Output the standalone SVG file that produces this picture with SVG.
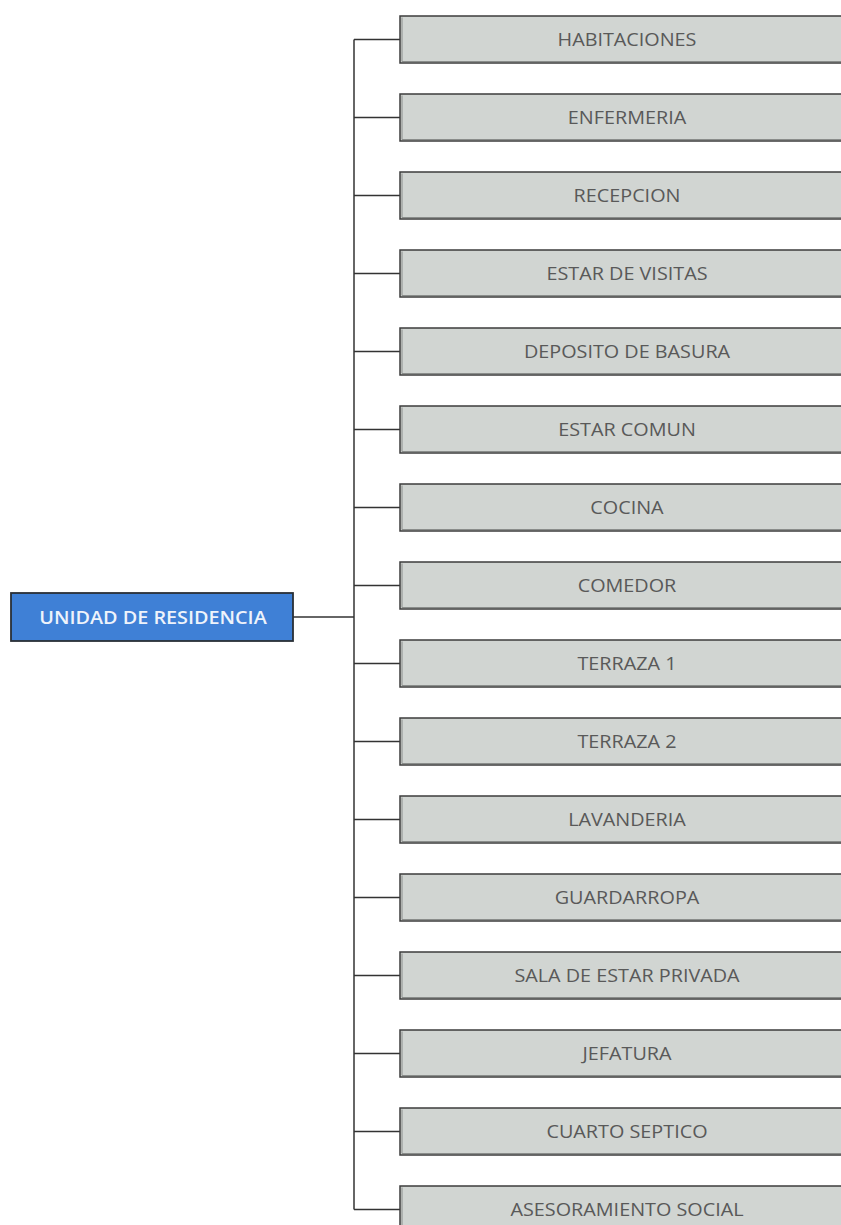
<svg xmlns="http://www.w3.org/2000/svg" width="841" height="1225" viewBox="0 0 841 1225">
  <defs>
    <style>
      .room rect.base { fill: #d1d5d2; stroke: #3c3c3c; stroke-width: 1.5; }
      .room path { fill: none; stroke: #8a8d8b; stroke-width: 1; }
      .room text { font-family: "Open Sans", "Noto Sans", sans-serif; font-size: 18px; fill: #595959; text-anchor: middle; }
      .root rect { fill: #3f80d6; stroke: #2a2f36; stroke-width: 1.8; }
      .root text { font-family: "Open Sans", "Noto Sans", sans-serif; font-size: 18px; font-weight: 600; fill: #eef3fb; text-anchor: middle; }
      .links path { fill: none; stroke: #333; stroke-width: 1.5; }
    </style>
  </defs>
  <rect width="841" height="1225" fill="#fff"/>

  <!-- connectors: trunk plus one branch per room -->
  <g class="links" id="connectors">
    <path d="M293 617 H354"/>
    <path d="M354 39.5 V1209.5"/>
    <path d="M354 39.5 H400"/>
    <path d="M354 117.5 H400"/>
    <path d="M354 195.5 H400"/>
    <path d="M354 273.5 H400"/>
    <path d="M354 351.5 H400"/>
    <path d="M354 429.5 H400"/>
    <path d="M354 507.5 H400"/>
    <path d="M354 585.5 H400"/>
    <path d="M354 663.5 H400"/>
    <path d="M354 741.5 H400"/>
    <path d="M354 819.5 H400"/>
    <path d="M354 897.5 H400"/>
    <path d="M354 975.5 H400"/>
    <path d="M354 1053.5 H400"/>
    <path d="M354 1131.5 H400"/>
    <path d="M354 1209.5 H400"/>
  </g>

  <!-- root -->
  <g class="root" id="unidad-de-residencia">
    <rect x="11" y="593" width="282" height="48"/>
    <text transform="translate(153,623.5) scale(1.1,1)">UNIDAD DE RESIDENCIA</text>
  </g>

  <!-- rooms: box, inner shade line, label -->
  <g class="room" id="habitaciones" transform="translate(400,16)">
    <rect class="base" width="460" height="47"/><path d="M2 1.5 V45.5 H460"/>
    <text transform="translate(227,30) scale(1.1,1)">HABITACIONES</text>
  </g>
  <g class="room" id="enfermeria" transform="translate(400,94)">
    <rect class="base" width="460" height="47"/><path d="M2 1.5 V45.5 H460"/>
    <text transform="translate(227,30) scale(1.1,1)">ENFERMERIA</text>
  </g>
  <g class="room" id="recepcion" transform="translate(400,172)">
    <rect class="base" width="460" height="47"/><path d="M2 1.5 V45.5 H460"/>
    <text transform="translate(227,30) scale(1.1,1)">RECEPCION</text>
  </g>
  <g class="room" id="estar-de-visitas" transform="translate(400,250)">
    <rect class="base" width="460" height="47"/><path d="M2 1.5 V45.5 H460"/>
    <text transform="translate(227,30) scale(1.1,1)">ESTAR DE VISITAS</text>
  </g>
  <g class="room" id="deposito-de-basura" transform="translate(400,328)">
    <rect class="base" width="460" height="47"/><path d="M2 1.5 V45.5 H460"/>
    <text transform="translate(227,30) scale(1.1,1)">DEPOSITO DE BASURA</text>
  </g>
  <g class="room" id="estar-comun" transform="translate(400,406)">
    <rect class="base" width="460" height="47"/><path d="M2 1.5 V45.5 H460"/>
    <text transform="translate(227,30) scale(1.1,1)">ESTAR COMUN</text>
  </g>
  <g class="room" id="cocina" transform="translate(400,484)">
    <rect class="base" width="460" height="47"/><path d="M2 1.5 V45.5 H460"/>
    <text transform="translate(227,30) scale(1.1,1)">COCINA</text>
  </g>
  <g class="room" id="comedor" transform="translate(400,562)">
    <rect class="base" width="460" height="47"/><path d="M2 1.5 V45.5 H460"/>
    <text transform="translate(227,30) scale(1.1,1)">COMEDOR</text>
  </g>
  <g class="room" id="terraza-1" transform="translate(400,640)">
    <rect class="base" width="460" height="47"/><path d="M2 1.5 V45.5 H460"/>
    <text transform="translate(227,30) scale(1.1,1)">TERRAZA 1</text>
  </g>
  <g class="room" id="terraza-2" transform="translate(400,718)">
    <rect class="base" width="460" height="47"/><path d="M2 1.5 V45.5 H460"/>
    <text transform="translate(227,30) scale(1.1,1)">TERRAZA 2</text>
  </g>
  <g class="room" id="lavanderia" transform="translate(400,796)">
    <rect class="base" width="460" height="47"/><path d="M2 1.5 V45.5 H460"/>
    <text transform="translate(227,30) scale(1.1,1)">LAVANDERIA</text>
  </g>
  <g class="room" id="guardarropa" transform="translate(400,874)">
    <rect class="base" width="460" height="47"/><path d="M2 1.5 V45.5 H460"/>
    <text transform="translate(227,30) scale(1.1,1)">GUARDARROPA</text>
  </g>
  <g class="room" id="sala-de-estar-privada" transform="translate(400,952)">
    <rect class="base" width="460" height="47"/><path d="M2 1.5 V45.5 H460"/>
    <text transform="translate(227,30) scale(1.1,1)">SALA DE ESTAR PRIVADA</text>
  </g>
  <g class="room" id="jefatura" transform="translate(400,1030)">
    <rect class="base" width="460" height="47"/><path d="M2 1.5 V45.5 H460"/>
    <text transform="translate(227,30) scale(1.1,1)">JEFATURA</text>
  </g>
  <g class="room" id="cuarto-septico" transform="translate(400,1108)">
    <rect class="base" width="460" height="47"/><path d="M2 1.5 V45.5 H460"/>
    <text transform="translate(227,30) scale(1.1,1)">CUARTO SEPTICO</text>
  </g>
  <g class="room" id="asesoramiento-social" transform="translate(400,1186)">
    <rect class="base" width="460" height="47"/><path d="M2 1.5 V45.5 H460"/>
    <text transform="translate(227,30) scale(1.1,1)">ASESORAMIENTO SOCIAL</text>
  </g>
</svg>
